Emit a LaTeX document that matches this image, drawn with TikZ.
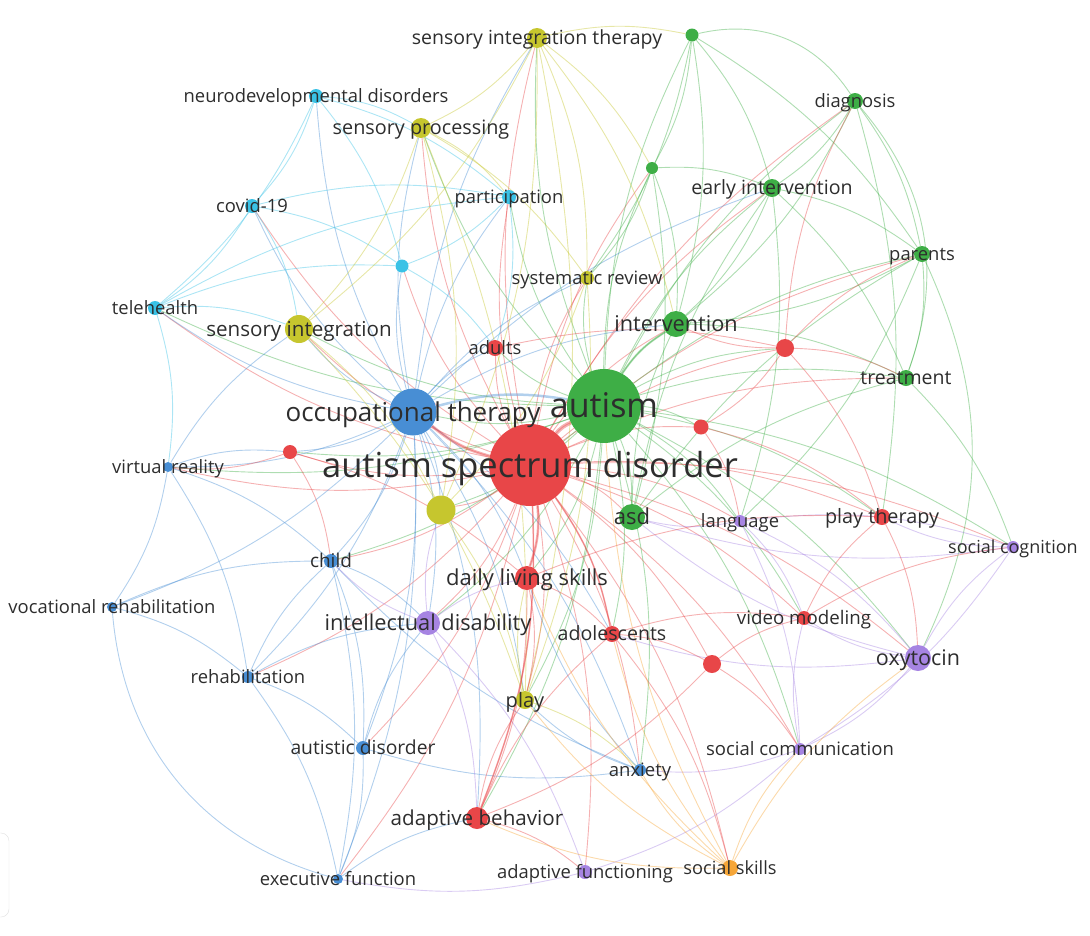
\documentclass[tikz,border=0pt]{standalone}
\usepackage{fontspec}
\setmainfont{Open Sans}
\usetikzlibrary{backgrounds}
\definecolor{cred}{RGB}{232,70,72}
\definecolor{cgrn}{RGB}{62,174,70}
\definecolor{cblu}{RGB}{72,142,212}
\definecolor{cyel}{RGB}{198,198,46}
\definecolor{cpur}{RGB}{166,132,226}
\definecolor{ccya}{RGB}{58,194,230}
\definecolor{cora}{RGB}{246,166,56}
\definecolor{txt}{RGB}{45,45,45}

\begin{document}
\begin{tikzpicture}[x=1pt,y=-1pt]
\tikzset{kwdot/.style={circle, inner sep=0pt, draw=none}}
\tikzset{kwlbl/.style={font=\fontsize{#1}{#1}\selectfont, text=txt, inner sep=0pt, anchor=base, yshift={-0.35*#1*1pt}}}
\tikzset{link/.style={line width=0.9pt, draw opacity=0.42, bend left=12}}
\useasboundingbox (0,0) rectangle (1090,935);
\def\kwlist{sit/537/38/cyel/20/19.5/sensory integration therapy,
  gtop/692/35/cgrn/13/18/,
  neuro/316/96/ccya/14/18.4/neurodevelopmental disorders,
  diag/855/101/cgrn/16/18.4/diagnosis,
  senproc/421/128/cyel/20/19.8/sensory processing,
  partic/509/197/ccya/14/18.4/participation,
  gmid/652/168/cgrn/12/18/,
  earlyint/772/188/cgrn/18/19.6/early intervention,
  covid/252/206/ccya/14/18.4/covid-19,
  cyanb/402/266/ccya/13/18/,
  sysrev/587/278/cyel/14/18.4/systematic review,
  parents/922/254/cgrn/16/18.4/parents,
  tele/155/308/ccya/14/18.4/telehealth,
  sensint/299/329/cyel/28/20.6/sensory integration,
  interv/676/324/cgrn/26/21.7/intervention,
  adults/495/348/cred/16/18.4/adults,
  redne/785/348/cred/18/18/,
  treat/906/378/cgrn/16/19.5/treatment,
  occther/413/412/cblu/47/26/occupational therapy,
  autism/604/406/cgrn/74/34/autism,
  redw/290/452/cred/14/18/,
  rede/701/427/cred/15/18/,
  asdr/530/465/cred/82/34.5/autism spectrum disorder,
  vr/168/467/cblu/10/18.4/virtual reality,
  yelc/441/510/cyel/29/18/,
  asdg/632/517/cgrn/26/22/asd,
  lang/740/521/cpur/12/18.4/language,
  playther/882/517/cred/16/19.8/play therapy,
  soccog/1013/547/cpur/12/18/social cognition,
  child/331/561/cblu/14/19/child,
  dls/527/578/cred/24/22/daily living skills,
  vocrehab/112/607/cblu/10/18.4/vocational rehabilitation,
  intdis/428/623/cpur/24/21.8/intellectual disability,
  adol/612/634/cred/16/19.6/adolescents,
  video/804/618/cred/14/18.7/video modeling,
  oxy/918/658/cpur/26/21.5/oxytocin,
  redse/712/664/cred/18/18/,
  rehab/248/677/cblu/12/18.4/rehabilitation,
  play/525/700/cyel/18/20/play,
  autdis/363/748/cblu/14/19.3/autistic disorder,
  soccomm/800/749/cpur/12/18.5/social communication,
  anx/640/770/cblu/12/18.5/anxiety,
  adbeh/477/818/cred/22/20.6/adaptive behavior,
  exec/338/879/cblu/10/18.4/executive function,
  adfun/585/872/cpur/14/18.4/adaptive functioning,
  socsk/730/868/cora/16/18.2/social skills}
% keywords
\foreach \n/\x/\y/\c/\d/\f/\t in \kwlist
  \node[kwdot, fill=\c, minimum size=\d*1pt] (\n) at (\x,\y) {};
\foreach \n/\x/\y/\c/\d/\f/\t in \kwlist
  \node[kwlbl=\f] (\n-l) at (\n) {\t};

% links
\begin{pgfonlayer}{background}
\foreach \t in {autism,occther,adults,redne,rede,redw,playther,dls,adol,video,redse,adbeh,yelc,asdg,lang,intdis,play,anx,socsk,adfun,soccomm,oxy,child,vr,interv,sysrev,partic,senproc,sit,parents,treat,earlyint,diag,exec,autdis,rehab,tele,covid,sensint,soccog,cyanb,gmid}
  \draw[link, cred] (asdr) to (\t);
\foreach \t in {interv,earlyint,diag,parents,treat,gmid,gtop,asdg,sysrev,partic,senproc,sit,occther,sensint,playther,video,oxy,lang,soccog,dls,adol,adbeh,play,soccomm,intdis,child,vr,redne,rede,adults,anx,redw,yelc,tele}
  \draw[link, cgrn] (autism) to (\t);
\foreach \t in {vr,vocrehab,rehab,child,autdis,exec,tele,covid,neuro,cyanb,partic,sensint,senproc,sit,intdis,play,adbeh,anx,dls,adults,sysrev,interv,redw,yelc,earlyint,adol}
  \draw[link, cblu] (occther) to (\t);
\foreach \s/\t in {gtop/earlyint,gtop/gmid,gtop/interv,gtop/parents,gtop/sysrev,diag/earlyint,diag/parents,diag/interv,earlyint/parents,earlyint/interv,earlyint/treat,gmid/earlyint,gmid/interv,gmid/sysrev,parents/treat,parents/interv,interv/treat,asdg/parents,asdg/treat,asdg/interv,asdg/earlyint,gmid/asdg,earlyint/lang,treat/soccog,diag/playther,parents/lang}
  \draw[link, cgrn] (\s) to (\t);
\draw[link, cgrn, bend left=35] (gtop) to (diag);
\draw[link, cgrn, bend left=30] (diag) to (treat);
\draw[link, cgrn, bend left=25] (parents) to (oxy);
\foreach \s/\t in {neuro/covid,neuro/cyanb,neuro/tele,covid/tele,covid/cyanb,covid/partic,tele/cyanb,tele/partic,partic/cyanb,neuro/senproc,tele/sensint,covid/sensint,neuro/partic,cyanb/adults,partic/adults,tele/vr}
  \draw[link, ccya] (\s) to (\t);
\foreach \s/\t in {sit/senproc,sit/sensint,sit/sysrev,sit/yelc,sit/gtop,senproc/sensint,senproc/yelc,senproc/sysrev,senproc/play,sensint/yelc,sensint/play,sysrev/play,yelc/play,sit/play,sit/interv,sit/gmid,sysrev/yelc,play/dls,play/anx,senproc/partic}
  \draw[link, cyel] (\s) to (\t);
\foreach \s/\t in {vr/vocrehab,vr/rehab,vr/child,vocrehab/rehab,vocrehab/child,rehab/child,rehab/autdis,rehab/exec,child/autdis,child/exec,autdis/exec,autdis/intdis,anx/autdis,anx/child,exec/adbeh,vr/sensint,vr/redw,child/intdis,rehab/intdis,anx/play,anx/dls}
  \draw[link, cblu] (\s) to (\t);
\draw[link, cblu, bend left=35] (exec) to (vocrehab);
\foreach \s/\t in {lang/soccomm,lang/oxy,lang/soccog,oxy/soccomm,oxy/soccog,soccog/soccomm,soccomm/anx,soccomm/adfun,intdis/adfun,intdis/dls,adfun/exec,oxy/video,intdis/adbeh,lang/asdg,soccog/asdg,oxy/asdg,lang/video,soccog/playther,intdis/child,intdis/yelc,soccomm/video,oxy/adol}
  \draw[link, cpur] (\s) to (\t);
\foreach \s/\t in {dls/adbeh,dls/adol,dls/playther,adol/video,adol/redse,video/playther,redse/video,redne/playther,redne/rede,rede/playther,adults/redne,adbeh/adol,adol/socsk,redse/soccomm,redw/dls,playther/oxy,video/soccog,redne/treat,redne/parents,redne/interv,redse/adbeh,adbeh/play,adbeh/adfun,redw/child,redw/vr,redne/diag,rede/lang,dls/play}
  \draw[link, cred] (\s) to (\t);
\foreach \s/\t in {socsk/anx,socsk/adbeh,socsk/dls,socsk/play,socsk/soccomm,socsk/oxy,socsk/adol,socsk/autism}
  \draw[link, cora] (\s) to (\t);
% strong links
\draw[link, cred, line width=4pt] (asdr) to (autism);
\draw[link, cred, line width=3pt] (asdr) to (occther);
\draw[link, cred, line width=2.5pt] (asdr) to (dls);
\draw[link, cblu, line width=2.5pt] (occther) to (autism);
\draw[link, cgrn, line width=2pt] (autism) to (interv);
\draw[link, cred, line width=1.6pt] (asdr) to (adbeh);
\draw[link, cred, line width=1.6pt] (asdr) to (adol);
\end{pgfonlayer}

\draw[gray!25, rounded corners=8pt] (-30,833) rectangle (9,917);
\end{tikzpicture}
\end{document}
